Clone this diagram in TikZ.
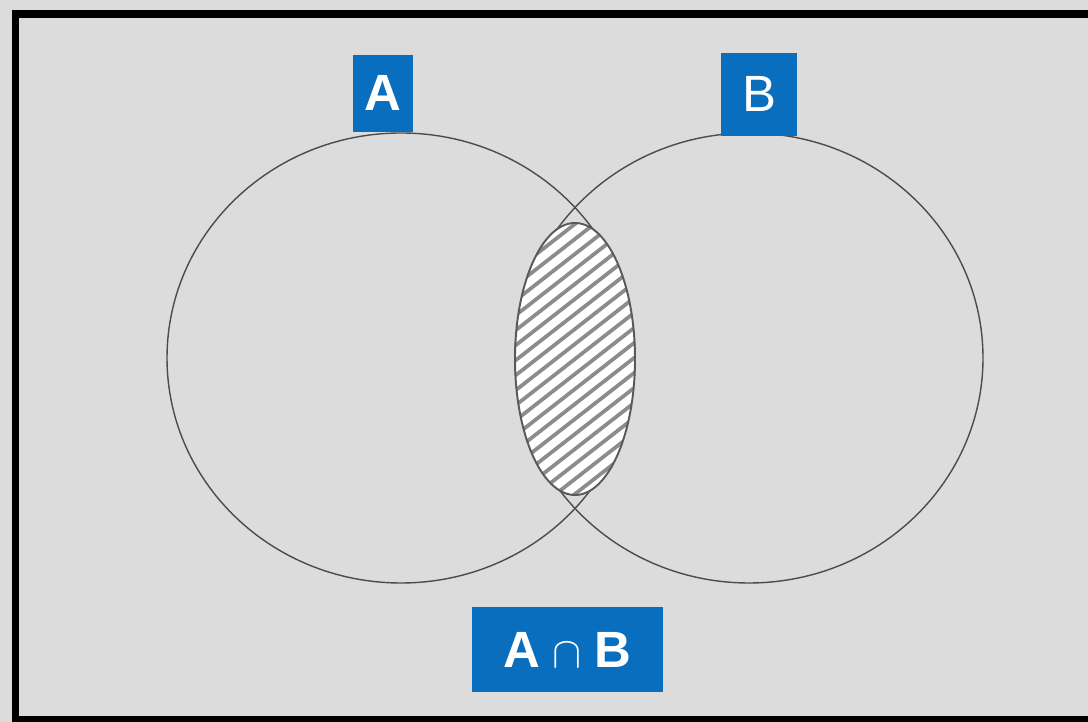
\documentclass[tikz,border=0pt]{standalone}
\usepackage{fontspec}
\setmainfont{Liberation Sans}
\usepackage{xcolor}
\usetikzlibrary{shapes.geometric,positioning}

\definecolor{tagblue}{HTML}{0A6EBF}
\definecolor{panelgray}{HTML}{DCDCDC}

\begin{document}
\begin{tikzpicture}[
  setcircle/.style={ellipse, draw=black!70, line width=0.8pt, minimum width=9.36cm, minimum height=9cm, inner sep=0pt},
  tag/.style={rectangle, fill=tagblue, text=white, inner sep=0pt, font=\fontsize{29}{32}\selectfont},
  overlap/.style={ellipse, draw=black!65, line width=1.1pt, fill=white, minimum width=2.4cm, minimum height=5.44cm, inner sep=0pt},
  hatchline/.style={draw=black!45, line width=0.075cm}
]
  \useasboundingbox (0,0) rectangle (21.76,14.44);
  \fill[panelgray] (0,0) rectangle (21.76,14.44);
  \draw[line width=0.15cm] (0.31,0.04) rectangle (22.2,14.16);

  % the two sets
  \node[setcircle] (setA) at (8.02,7.28) {};
  \node[setcircle] (setB) at (14.98,7.28) {};

  % hatched overlap
  \node[overlap, path picture={
      \foreach \k in {-14,...,14}
        \draw[hatchline] ([shift={(-1.5,\k*0.3-1.17)}]path picture bounding box.center)
          -- ([shift={(1.5,\k*0.3+1.17)}]path picture bounding box.center);
    }] (AcapB) at (11.5,7.26) {};

  % labels
  \node[tag, minimum width=1.2cm, minimum height=1.54cm, above=0pt of setA, xshift=-0.36cm] (labelA) {\bfseries A};
  \node[tag, minimum width=1.52cm, minimum height=1.66cm, above=-0.08cm of setB, xshift=0.2cm] (labelB) {B};
  \node[tag, minimum width=3.82cm, minimum height=1.7cm] (labelAB) at (11.35,1.45) {\bfseries A\hspace{0.25cm}$\cap$\hspace{0.25cm}B};
\end{tikzpicture}
\end{document}
